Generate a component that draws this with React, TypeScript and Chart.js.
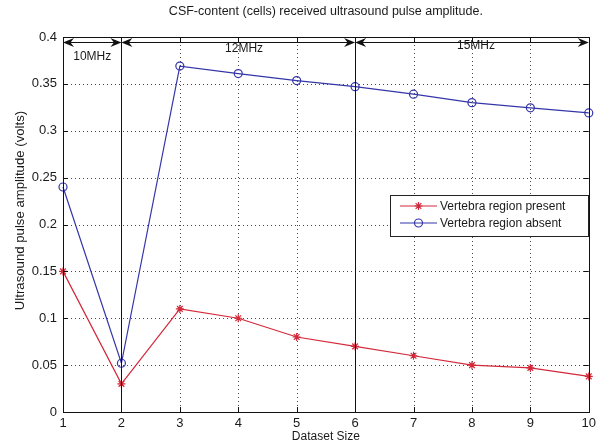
import React, { useEffect, useRef } from "react";
import { Chart, registerables } from "chart.js";

Chart.register(...registerables);

// ---- data ----
const datasetSizes = [1, 2, 3, 4, 5, 6, 7, 8, 9, 10];
const presentValues = [0.15, 0.03, 0.11, 0.1, 0.08, 0.07, 0.06, 0.05, 0.047, 0.038];
const absentValues = [0.24, 0.052, 0.369, 0.361, 0.3535, 0.347, 0.339, 0.33, 0.3245, 0.319];
const xTickValues = [1, 2, 3, 4, 5, 6, 7, 8, 9, 10];
const yTickValues = [0, 0.05, 0.1, 0.15, 0.2, 0.25, 0.3, 0.35, 0.4];
const yTickLabels = ["0", "0.05", "0.1", "0.15", "0.2", "0.25", "0.3", "0.35", "0.4"];
const seriesNames = ["Vertebra region present", "Vertebra region absent"];
const bandEdges = [1, 2, 6, 10];
const bandLabels = ["10MHz", "12MHz", "15MHz"];
const bandLabelX = [1.5, 4.1, 8.07];
const bandLabelY = [0.379, 0.388, 0.3905];
const arrowY = 0.395;

const titleText = "CSF-content (cells) received ultrasound pulse amplitude.";
const xTitle = "Dataset Size";
const yTitle = "Ultrasound pulse amplitude (volts)";

const RED = "#d3283a";
const BLUE = "#3436a8";
const FONT = '"Liberation Sans", Arial, Helvetica, sans-serif';
const TXT = "#1a1a1a";

function drawStar(ctx: CanvasRenderingContext2D, x: number, y: number, r: number, color: string) {
  ctx.save();
  ctx.strokeStyle = color;
  ctx.lineWidth = 1.2;
  ctx.beginPath();
  ctx.moveTo(x - r, y); ctx.lineTo(x + r, y);
  ctx.moveTo(x, y - r); ctx.lineTo(x, y + r);
  const d = r * 0.7071;
  ctx.moveTo(x - d, y - d); ctx.lineTo(x + d, y + d);
  ctx.moveTo(x - d, y + d); ctx.lineTo(x + d, y - d);
  ctx.stroke();
  ctx.restore();
}

function drawCircle(ctx: CanvasRenderingContext2D, x: number, y: number, r: number, color: string) {
  ctx.save();
  ctx.strokeStyle = color;
  ctx.lineWidth = 1.2;
  ctx.beginPath();
  ctx.arc(x, y, r, 0, Math.PI * 2);
  ctx.stroke();
  ctx.restore();
}

function arrowHead(ctx: CanvasRenderingContext2D, tipX: number, y: number, dir: number) {
  // dir = -1 points left, +1 points right
  const L = 11, W = 4.5, N = 7.5;
  ctx.beginPath();
  ctx.moveTo(tipX, y);
  ctx.lineTo(tipX - dir * L, y - W);
  ctx.lineTo(tipX - dir * N, y);
  ctx.lineTo(tipX - dir * L, y + W);
  ctx.closePath();
  ctx.fill();
}

const matlabPlugin = {
  id: "matlabStyle",
  beforeDatasetsDraw(chart: any) {
    const { ctx, chartArea: a, scales } = chart;
    const xs = scales.x, ys = scales.y;
    ctx.save();
    ctx.strokeStyle = "#4a4a4a";
    ctx.lineWidth = 1;
    ctx.setLineDash([1, 3]);
    for (const v of xTickValues) {
      if (v === xTickValues[0] || v === xTickValues[xTickValues.length - 1]) continue;
      const px = Math.round(xs.getPixelForValue(v)) + 0.5;
      ctx.beginPath(); ctx.moveTo(px, a.top); ctx.lineTo(px, a.bottom); ctx.stroke();
    }
    for (const v of yTickValues) {
      if (v === yTickValues[0] || v === yTickValues[yTickValues.length - 1]) continue;
      const py = Math.round(ys.getPixelForValue(v)) + 0.5;
      ctx.beginPath(); ctx.moveTo(a.left, py); ctx.lineTo(a.right, py); ctx.stroke();
    }
    ctx.restore();
  },
  afterDatasetsDraw(chart: any) {
    const { ctx, chartArea: a, scales } = chart;
    const xs = scales.x, ys = scales.y;
    ctx.save();
    ctx.setLineDash([]);
    ctx.strokeStyle = "#111";
    ctx.fillStyle = "#111";
    ctx.lineWidth = 1;

    // box
    ctx.strokeRect(Math.round(a.left) + 0.5, Math.round(a.top) + 0.5, Math.round(a.right - a.left), Math.round(a.bottom - a.top));

    // inward ticks
    const TL = 5;
    ctx.beginPath();
    for (const v of xTickValues) {
      const px = Math.round(xs.getPixelForValue(v)) + 0.5;
      ctx.moveTo(px, a.bottom); ctx.lineTo(px, a.bottom - TL);
      ctx.moveTo(px, a.top); ctx.lineTo(px, a.top + TL);
    }
    for (const v of yTickValues) {
      const py = Math.round(ys.getPixelForValue(v)) + 0.5;
      ctx.moveTo(a.left, py); ctx.lineTo(a.left + TL, py);
      ctx.moveTo(a.right, py); ctx.lineTo(a.right - TL, py);
    }
    ctx.stroke();

    // vertical band separators
    for (const e of bandEdges.slice(1, -1)) {
      const px = Math.round(xs.getPixelForValue(e)) + 0.5;
      ctx.beginPath();
      ctx.moveTo(px, ys.getPixelForValue(0));
      ctx.lineTo(px, ys.getPixelForValue(0.4));
      ctx.stroke();
    }

    // double arrows
    const ay = Math.round(ys.getPixelForValue(arrowY)) + 0.5;
    for (let i = 0; i < bandEdges.length - 1; i++) {
      const x1 = xs.getPixelForValue(bandEdges[i]);
      const x2 = xs.getPixelForValue(bandEdges[i + 1]);
      ctx.beginPath(); ctx.moveTo(x1 + 2, ay); ctx.lineTo(x2 - 2, ay); ctx.stroke();
      arrowHead(ctx, x1, ay, -1);
      arrowHead(ctx, x2, ay, 1);
    }

    // band labels
    ctx.font = `12px ${FONT}`;
    ctx.fillStyle = TXT;
    ctx.textAlign = "center";
    ctx.textBaseline = "middle";
    bandLabels.forEach((t, i) => {
      ctx.fillText(t, xs.getPixelForValue(bandLabelX[i]), ys.getPixelForValue(bandLabelY[i]));
    });

    // legend
    const lx = 390, ly = 195, lw = 198, lh = 41;
    ctx.fillStyle = "#fff";
    ctx.fillRect(lx, ly, lw, lh);
    ctx.strokeStyle = "#222";
    ctx.strokeRect(lx + 0.5, ly + 0.5, lw, lh);
    const rows = [ly + 11, ly + 28];
    const colors = [RED, BLUE];
    rows.forEach((ry, i) => {
      ctx.strokeStyle = colors[i];
      ctx.lineWidth = 1.2;
      ctx.beginPath(); ctx.moveTo(lx + 10, ry); ctx.lineTo(lx + 47, ry); ctx.stroke();
      if (i === 0) drawStar(ctx, lx + 28.5, ry, 4, RED);
      else drawCircle(ctx, lx + 28.5, ry, 4, BLUE);
      ctx.fillStyle = TXT;
      ctx.font = `12px ${FONT}`;
      ctx.textAlign = "left";
      ctx.textBaseline = "middle";
      ctx.fillText(seriesNames[i], lx + 50, ry + 0.5);
    });

    // titles
    ctx.fillStyle = TXT;
    ctx.textAlign = "center";
    ctx.textBaseline = "middle";
    const cx = (a.left + a.right) / 2;
    ctx.font = `12.5px ${FONT}`;
    ctx.fillText(titleText, cx, 12);
    ctx.font = `12px ${FONT}`;
    ctx.fillText(xTitle, cx, 437);
    ctx.font = `13.2px ${FONT}`;
    ctx.translate(20, 210.5);
    ctx.rotate(-Math.PI / 2);
    ctx.fillText(yTitle, 0, 0);
    ctx.restore();
  },
};

export default function App() {
  const ref = useRef<HTMLCanvasElement | null>(null);
  useEffect(() => {
    document.body.style.margin = "0";
    const canvas = ref.current!;
    const chart = new Chart(canvas, {
      type: "line",
      data: {
        datasets: [
          {
            label: seriesNames[0],
            data: datasetSizes.map((x, i) => ({ x, y: presentValues[i] })),
            borderColor: RED,
            backgroundColor: RED,
            borderWidth: 1.2,
            pointStyle: "star",
            pointRadius: 4,
            pointBorderWidth: 1.2,
            pointBorderColor: RED,
            tension: 0,
            clip: false as any,
          },
          {
            label: seriesNames[1],
            data: datasetSizes.map((x, i) => ({ x, y: absentValues[i] })),
            borderColor: BLUE,
            backgroundColor: "rgba(0,0,0,0)",
            borderWidth: 1.2,
            pointStyle: "circle",
            pointRadius: 4,
            pointBorderWidth: 1.2,
            pointBorderColor: BLUE,
            pointBackgroundColor: "rgba(0,0,0,0)",
            tension: 0,
            clip: false as any,
          },
        ],
      },
      options: {
        animation: false,
        responsive: false,
        devicePixelRatio: 1,
        events: [],
        layout: { padding: { top: 37, right: 10, left: 0, bottom: 0 } },
        plugins: {
          legend: { display: false },
          title: { display: false },
          tooltip: { enabled: false },
        },
        scales: {
          x: {
            type: "linear",
            min: 1,
            max: 10,
            afterFit: (s: any) => { s.height = 35; },
            afterBuildTicks: (s: any) => { s.ticks = xTickValues.map((v) => ({ value: v })); },
            grid: { display: false, drawTicks: false },
            border: { display: false },
            ticks: {
              padding: 4,
              color: TXT,
              font: { family: FONT, size: 13 },
              maxRotation: 0,
              autoSkip: false,
              callback: (v: any) => String(v),
            },
          },
          y: {
            type: "linear",
            min: 0,
            max: 0.4,
            afterFit: (s: any) => { s.width = 63; },
            afterBuildTicks: (s: any) => { s.ticks = yTickValues.map((v) => ({ value: v })); },
            grid: { display: false, drawTicks: false },
            border: { display: false },
            ticks: {
              padding: 6,
              color: TXT,
              font: { family: FONT, size: 13 },
              autoSkip: false,
              callback: (v: any, i: number) => yTickLabels[i] ?? String(v),
            },
          },
        },
      },
      plugins: [matlabPlugin],
    });
    return () => chart.destroy();
  }, []);
  return (
    <div style={{ width: 600, height: 447 }}>
      <canvas ref={ref} width={600} height={447} style={{ display: "block" }} />
    </div>
  );
}
